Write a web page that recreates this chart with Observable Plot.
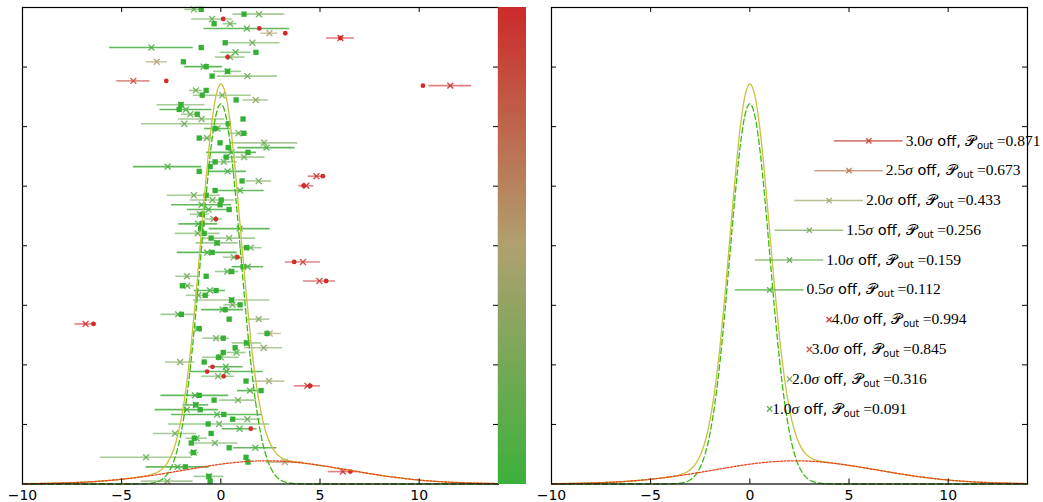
<!DOCTYPE html>
<html><head><meta charset="utf-8">
<script src="https://cdn.jsdelivr.net/npm/d3@7"></script>
<script src="https://cdn.jsdelivr.net/npm/@observablehq/plot@0.6"></script>
<style>
html,body{margin:0;padding:0;background:#fff;}
#wrap{position:relative;width:1043px;height:502px;overflow:hidden;}
#wrap > div{position:absolute;top:0;}
svg{display:block;}
</style></head><body>
<div id="wrap"><div id="left" style="left:0"></div><div id="cbar" style="left:498px"></div><div id="right" style="left:529px"></div></div>
<script>
// ---------- data: left panel, rows top -> bottom ----------
const trueX = [-0.99,1.17,0.12,-0.34,1.94,3.25,6.03,0.22,-0.99,1.77,0.34,-1.89,-0.74,0.34,-0.44,-2.75,10.19,-0.74,-0.94,0.77,
-2.01,-2.10,-1.19,1.12,0.37,-0.29,1.16,-1.09,-0.04,0.37,1.37,0.27,-0.29,-0.54,-1.09,5.14,1.07,4.17,-0.29,-0.74,
0.02,-0.04,0.42,-0.95,-0.25,-0.94,-1.02,-0.84,-0.49,-0.19,1.29,-0.44,0.84,3.70,1.12,0.55,-0.74,5.31,-1.94,-0.24,
-0.79,0.54,0.97,0.22,-1.99,0.42,-6.42,-1.09,2.33,0.12,1.29,0.72,0.12,-0.12,-0.84,-0.42,-0.69,0.14,1.27,4.51,
2.03,-1.09,-0.34,-1.27,-1.04,0.15,0.60,-0.64,1.51,-0.49,-1.34,-1.49,0.42,-1.39,1.27,1.37,-1.79,6.53,-0.60,-0.54];
const trueKind = ["s","s","c","s","c","c","c","s","s","s","c","s","s","s","s","c","c","s","s","s",
"s","s","s","s","s","s","s","s","s","s","s","s","s","s","s","c","s","c","s","s",
"s","s","s","s","c","s","s","s","s","s","s","s","c","c","s","s","s","c","s","s",
"s","s","s","s","s","s","c","s","s","s","s","s","s","s","s","c","c","c","s","c",
"s","s","s","s","s","s","s","s","c","s","s","s","s","s","s","s","s","c","s","s"];
const measX = [-1.36,1.92,-0.44,0.47,1.31,2.45,6.03,1.59,-3.50,0.74,0.47,-3.23,-0.87,0.34,1.34,-4.41,11.57,-1.26,0.07,1.76,
-2.01,-1.76,-1.54,-0.97,-1.84,-0.17,0.89,-0.70,2.18,2.30,0.54,1.17,0.15,-2.68,0.34,4.82,1.91,4.31,0.97,-1.36,
-0.42,-0.97,-0.62,-1.06,-0.37,-1.14,0.95,-1.17,0.42,-0.19,1.51,-0.69,0.65,4.14,1.36,0.32,-1.71,4.97,-1.69,-0.55,
-1.14,0.54,0.59,0.09,-2.15,1.91,-6.82,-1.17,2.46,-0.24,1.32,2.16,0.79,0.00,-2.05,0.25,0.29,-0.14,2.43,4.36,
1.47,-1.31,0.87,-1.26,-1.72,-0.19,1.34,-0.09,0.95,-2.31,-1.22,-0.30,1.74,-1.36,-3.77,3.23,-2.18,6.15,-0.60,-2.70];
const measErr = [0.45,1.31,1.03,0.35,2.16,0.43,0.70,1.39,2.11,0.78,0.75,0.53,0.95,0.70,1.51,0.84,1.08,0.32,1.46,0.64,
1.21,1.31,0.44,1.17,2.16,0.65,0.48,0.28,1.71,1.44,1.26,1.06,0.67,1.72,0.95,0.42,0.65,0.38,1.21,1.34,
1.12,1.51,1.06,0.48,0.44,0.98,1.54,1.13,1.34,1.07,0.57,1.51,0.53,0.89,0.79,0.59,0.56,0.81,0.35,0.79,
0.60,1.93,0.44,1.06,0.87,0.56,0.54,0.15,0.59,0.67,0.74,0.96,0.48,0.94,0.75,0.87,1.85,0.84,0.80,0.66,
0.63,1.71,0.92,0.65,1.59,2.30,0.67,2.55,0.88,1.09,0.54,1.17,1.09,0.25,2.30,0.92,1.59,0.73,0.75,1.30];
const pOut = [0.15,0.2,0.2,0.15,0.05,0.5,0.97,0.2,0.05,0.1,0.2,0.5,0.05,0.1,0.2,0.85,0.99,0.15,0.2,0.3,
0.2,0.05,0.2,0.2,0.2,0.05,0.2,0.15,0.25,0.05,0.05,0.2,0.15,0.05,0.05,0.97,0.25,0.99,0.05,0.2,
0.2,0.05,0.05,0.15,0.2,0.05,0.05,0.2,0.2,0.15,0.2,0.05,0.2,0.92,0.05,0.1,0.25,0.95,0.2,0.05,
0.2,0.25,0.2,0.05,0.15,0.3,0.99,0.15,0.5,0.2,0.15,0.3,0.1,0.2,0.3,0.05,0.05,0.2,0.4,0.97,
0.05,0.05,0.2,0.05,0.05,0.05,0.2,0.1,0.05,0.2,0.15,0.2,0.05,0.1,0.2,0.55,0.05,0.98,0.1,0.25];
const ROW_TOP = 0.3984, ROW_STEP = 0.004;

// ---------- model curves ----------
const curveX = [-10,-9,-8,-7,-6,-5,-4.5,-4,-3.5,-3,-2.75,-2.5,-2.25,-2,-1.75,-1.5,-1.25,-1,-0.75,-0.5,-0.25,0,0.25,0.5,0.75,1,1.25,1.5,1.75,2,2.25,2.5,2.75,3,3.5,4,4.5,5,6,7,8,9,10,11,12,13,14];
const inlierY = [0,0,0,0,0,0.0000012,0.0000128,0.000107,0.000698,0.00355,0.00727,0.01402,0.02539,0.04319,0.06902,0.10361,0.14612,0.19357,0.24091,0.28165,0.30933,0.31915,0.30933,0.28165,0.24091,0.19357,0.14612,0.10361,0.06902,0.04319,0.02539,0.01402,0.00727,0.00355,0.000698,0.000107,0.0000128,0.0000012,0,0,0,0,0,0,0,0,0];
const outlierY = [0.000216,0.000436,0.000829,0.001485,0.002508,0.003988,0.004918,0.005976,0.007155,0.008439,0.009113,0.009806,0.010512,0.011227,0.011946,0.012665,0.013377,0.014075,0.014756,0.015412,0.016039,0.016627,0.017174,0.017672,0.018117,0.018506,0.018832,0.019092,0.019285,0.019408,0.019459,0.019437,0.019343,0.019178,0.018645,0.017857,0.016850,0.015665,0.012951,0.010088,0.007405,0.005120,0.003335,0.002049,0.001185,0.000646,0.000332];
const totalY = [0.000216,0.000436,0.000829,0.001485,0.002508,0.003989,0.004931,0.006083,0.007853,0.011989,0.016383,0.023826,0.035902,0.054417,0.080966,0.116275,0.159497,0.207645,0.255666,0.297062,0.325369,0.335777,0.326504,0.299322,0.259027,0.212076,0.164952,0.122702,0.088305,0.062598,0.044849,0.033457,0.026613,0.022728,0.019343,0.017964,0.016863,0.015666,0.012951,0.010088,0.007405,0.005120,0.003335,0.002049,0.001185,0.000646,0.000332];

// ---------- right panel demo ----------
const demoSigma = [3.0,2.5,2.0,1.5,1.0,0.5,4.0,3.0,2.0,1.0];
const demoX = [6,5,4,3,2,1,4,3,2,1];
const demoErr = [1.73,1.73,1.73,1.73,1.73,1.73,0,0,0,0];
const demoPout = [0.871,0.673,0.433,0.256,0.159,0.112,0.994,0.845,0.316,0.091];
const DEMO_TOP = 0.288, DEMO_STEP = 0.025;

// ---------- axes ----------
const xDomain = [-10, 14];
const yDomain = [0, 0.4];
const xTickVals = [-10, -5, 0, 5, 10];
const xInnerTicks = [-5, 0, 5, 10];
const yTickVals = [0.05, 0.1, 0.15, 0.2, 0.25, 0.3, 0.35];
const cbColors = ["#3cb03c", "#b0a070", "#cc2a2a"];

// ---------- helpers ----------
const SERIF = "'Liberation Serif','DejaVu Serif',serif";
const SANS = "'DejaVu Sans',sans-serif";
const H = 502, MT = 7, MB = 18.5;
const frameH = H - MT - MB;
const cmap = d3.piecewise(d3.interpolateRgb, cbColors);
const colorOpt = {type: "linear", domain: [0, 1], interpolate: cmap};

function tickMarks(frameW) {
  const xl = 5 * (xDomain[1] - xDomain[0]) / frameW;
  const yl = 5 * (yDomain[1] - yDomain[0]) / frameH;
  return [
    Plot.ruleX(xInnerTicks, {x: d => d, y1: yDomain[0], y2: yDomain[0] + yl, stroke: "black", strokeWidth: 1}),
    Plot.ruleX(xInnerTicks, {x: d => d, y1: yDomain[1] - yl, y2: yDomain[1], stroke: "black", strokeWidth: 1}),
    Plot.ruleY(yTickVals, {y: d => d, x1: xDomain[0], x2: xDomain[0] + xl, stroke: "black", strokeWidth: 1}),
    Plot.ruleY(yTickVals, {y: d => d, x1: xDomain[1] - xl, x2: xDomain[1], stroke: "black", strokeWidth: 1}),
    Plot.axisX(xTickVals, {tickSize: 0, tickPadding: 6, fontSize: 14, fontFamily: SANS, fill: "black", label: null})
  ];
}
function curveMarks() {
  const pts = ys => curveX.map((x, i) => ({x, y: ys[i]}));
  return [
    Plot.line(pts(totalY), {x: "x", y: "y", stroke: "#c8c23e", strokeWidth: 1.3, curve: "monotone-x"}),
    Plot.line(pts(inlierY), {x: "x", y: "y", stroke: "#3dbb10", strokeWidth: 1.3, strokeDasharray: "5.5,3", curve: "monotone-x"}),
    Plot.line(pts(outlierY), {x: "x", y: "y", stroke: "#e5461c", strokeWidth: 1.3, strokeDasharray: "2,1.6", curve: "monotone-x"})
  ];
}

// ---------- left panel ----------
const rows = trueX.map((t, i) => ({t, kind: trueKind[i], m: measX[i], e: measErr[i], p: pOut[i], y: ROW_TOP - ROW_STEP * i}));
const leftW = 500, leftML = 22, leftMR = 2;
const left = Plot.plot({
  width: leftW, height: H, marginLeft: leftML, marginRight: leftMR, marginTop: MT, marginBottom: MB,
  x: {domain: xDomain}, y: {domain: yDomain, axis: null}, color: colorOpt,
  style: {background: "white", overflow: "visible"},
  marks: [
    Plot.ruleY(rows.filter(d => d.p < 0.08), {y: "y", x1: d => d.m - d.e, x2: d => d.m + d.e, stroke: "p", strokeWidth: 1.6, strokeOpacity: 0.85}),
    Plot.ruleY(rows.filter(d => d.p >= 0.08), {y: "y", x1: d => d.m - d.e, x2: d => d.m + d.e, stroke: "p", strokeWidth: 1.6, strokeOpacity: 0.6}),
    Plot.dot(rows, {x: "m", y: "y", symbol: "times", r: 2.8, stroke: "p", strokeWidth: 1.4, strokeOpacity: 0.85}),
    Plot.dot(rows.filter(d => d.kind === "s"), {x: "t", y: "y", symbol: "square", r: 3.0, fill: "#34b034", stroke: "none"}),
    Plot.dot(rows.filter(d => d.kind === "c"), {x: "t", y: "y", symbol: "circle", r: 2.4, fill: "#d62a2a", stroke: "none"}),
    ...curveMarks(),
    Plot.frame({stroke: "black", strokeWidth: 1.2}),
    ...tickMarks(leftW - leftML - leftMR)
  ]
});
document.getElementById("left").appendChild(left);

// ---------- colorbar ----------
const cbStep = 0.005;
const cbSteps = d3.range(0, 1, cbStep);
const cbar = Plot.plot({
  width: 28, height: H, marginLeft: 0, marginRight: 0, marginTop: MT, marginBottom: MB,
  x: {domain: [0, 1], axis: null}, y: {domain: [0, 1], axis: null}, color: colorOpt,
  style: {background: "transparent"},
  marks: [
    Plot.rect(cbSteps, {x1: 0, x2: 1, y1: d => d, y2: d => Math.min(1, d + cbStep * 1.2), fill: d => d + cbStep / 2, shapeRendering: "crispEdges"})
  ]
});
document.getElementById("cbar").appendChild(cbar);

// ---------- right panel ----------
const demo = demoX.map((x, i) => ({x, e: demoErr[i], p: demoPout[i], s: demoSigma[i], y: DEMO_TOP - DEMO_STEP * i}));
const rightW = 514, rightML = 22, rightMR = 16;
const right = Plot.plot({
  width: rightW, height: H, marginLeft: rightML, marginRight: rightMR, marginTop: MT, marginBottom: MB,
  x: {domain: xDomain}, y: {domain: yDomain, axis: null}, color: colorOpt,
  style: {background: "white", overflow: "visible"},
  marks: [
    ...curveMarks(),
    Plot.ruleY(demo.filter(d => d.e > 0), {y: "y", x1: d => d.x - d.e, x2: d => d.x + d.e, stroke: "p", strokeWidth: 1.6, strokeOpacity: 0.7}),
    Plot.dot(demo, {x: "x", y: "y", symbol: "times", r: 2.5, stroke: "p", strokeWidth: 1.3, strokeOpacity: 0.95}),
    Plot.text(demo, {x: d => d.x + d.e, y: "y", dx: 2.5, text: d => `${d.s.toFixed(1)}σ off, 𝒫out =${d.p.toFixed(3)}`, textAnchor: "start", lineAnchor: "middle", fontSize: 14.5, fill: "black"}),
    Plot.frame({stroke: "black", strokeWidth: 1.2}),
    ...tickMarks(rightW - rightML - rightMR)
  ]
});
document.getElementById("right").appendChild(right);

// rich text for the demo labels (mixed fonts, subscript)
const NS = "http://www.w3.org/2000/svg";
const labelEls = right.querySelectorAll('g[aria-label="text"] text');
labelEls.forEach((t, i) => {
  const d = demo[i];
  if (!d) return;
  t.textContent = "";
  const parts = [
    {s: d.s.toFixed(1), ff: SERIF, size: 15.5},
    {s: "σ", ff: SERIF, st: "italic", size: 15.5},
    {s: " off, ", ff: SANS},
    {s: "𝒫", ff: "'DejaVu Serif','DejaVu Sans',serif", w: "normal"},
    {s: "out", ff: SANS, size: 10, dy: 3, dx: 0.5},
    {s: "=" + d.p.toFixed(3), ff: SERIF, size: 15.5, dy: -3, dx: 3.5}
  ];
  for (const p of parts) {
    const ts = document.createElementNS(NS, "tspan");
    ts.textContent = p.s;
    ts.setAttribute("font-family", p.ff);
    if (p.st) ts.setAttribute("font-style", p.st);
    if (p.w) ts.setAttribute("font-weight", p.w);
    if (p.size) ts.setAttribute("font-size", p.size);
    if (p.dy) ts.setAttribute("dy", p.dy);
    if (p.dx) ts.setAttribute("dx", p.dx);
    t.appendChild(ts);
  }
});
</script>
</body></html>
